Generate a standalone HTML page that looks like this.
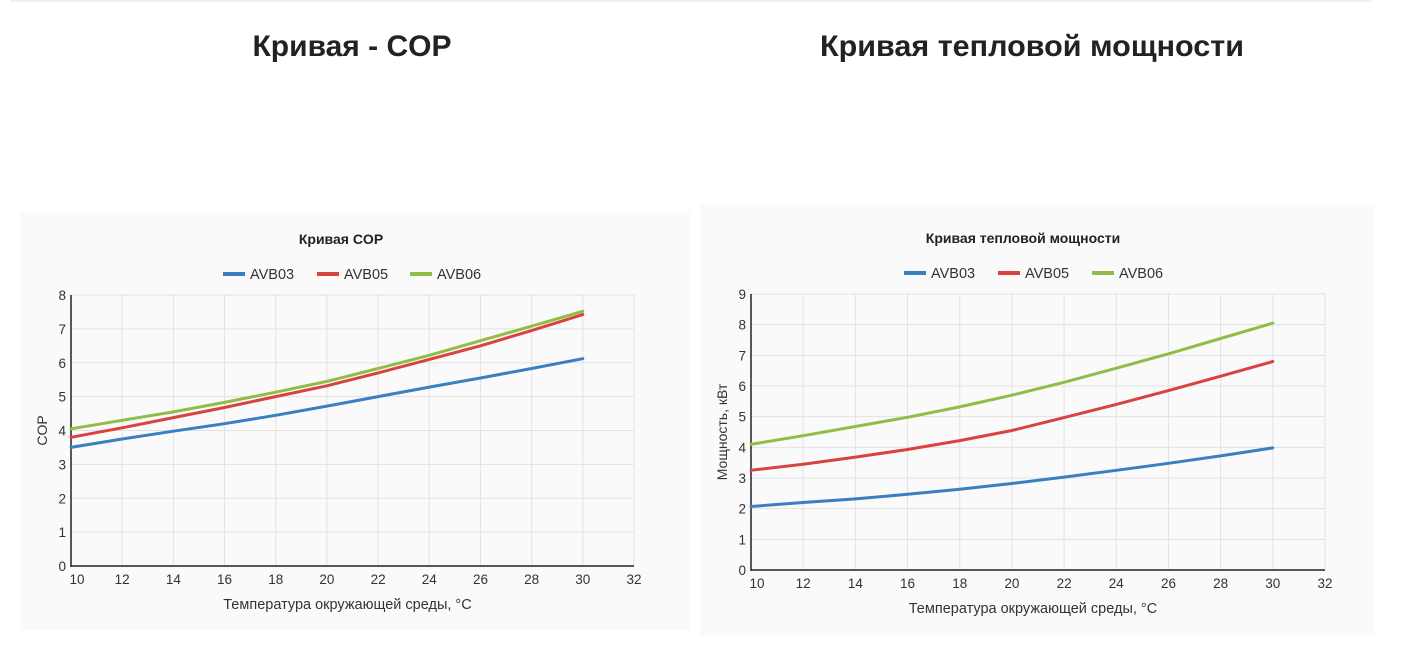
<!DOCTYPE html>
<html><head><meta charset="utf-8"><style>
html,body{margin:0;padding:0;background:#fff;width:1416px;height:658px;overflow:hidden;font-family:"Liberation Sans",sans-serif}
svg{position:absolute;left:0;top:0}
</style></head><body>
<svg id="s" width="1416" height="658" xmlns="http://www.w3.org/2000/svg">
<line x1="10" y1="1" x2="1372" y2="1" stroke="#e6e6e6"/>
<text x="352" y="56" text-anchor="middle" font-size="30" font-weight="bold" fill="#222">Кривая - COP</text>
<text x="1032" y="56" text-anchor="middle" font-size="30" font-weight="bold" fill="#222" textLength="424" lengthAdjust="spacingAndGlyphs">Кривая тепловой мощности</text>
<rect x="20" y="212" width="670" height="418" fill="#fafafa"/>
<rect x="700" y="205" width="675" height="430" fill="#fafafa"/>
</svg>
<script>
var s=document.getElementById('s'),NS='http://www.w3.org/2000/svg';
function el(t,a,txt){var e=document.createElementNS(NS,t);for(var k in a)e.setAttribute(k,a[k]);if(txt!=null)e.textContent=txt;s.appendChild(e);return e;}
function chart(c){
 var x0=c.x0,x1=c.x1,y0=c.y0,y1=c.y1,ymax=c.ymax;
 var X=function(v){return x0+(v-10)/22*(x1-x0)},Y=function(v){return y0-(v/ymax)*(y0-y1)};
 for(var v=12;v<=32;v+=2)el('line',{x1:X(v),y1:y1,x2:X(v),y2:y0,stroke:'#e2e2e2','stroke-width':1});
 for(var i=1;i<=ymax;i++)el('line',{x1:x0,y1:Y(i),x2:x1,y2:Y(i),stroke:'#e2e2e2','stroke-width':1});
 el('line',{x1:x0,y1:y1,x2:x0,y2:y0+1,stroke:'#222','stroke-width':1.5});
 el('line',{x1:x0,y1:y0,x2:x1,y2:y0,stroke:'#222','stroke-width':1.5});
 for(var v=10;v<=32;v+=2)el('text',{x:X(v)+(v==10?6:0),y:y0+18,'text-anchor':'middle','font-size':13.5,fill:'#333'},v);
 for(var i=0;i<=ymax;i++)el('text',{x:x0-5,y:Y(i)+5,'text-anchor':'end','font-size':13.5,fill:'#333'},i);
 el('text',{x:(x0+x1)/2-5,y:y0+43,'text-anchor':'middle','font-size':14.5,fill:'#333'},'Температура окружающей среды, °C');
 var yl=(y0+y1)/2; el('text',{x:c.ylx,y:yl,'text-anchor':'middle','font-size':14,fill:'#333',transform:'rotate(-90 '+c.ylx+' '+yl+')'},c.ylab);
 el('text',{x:c.tx,y:c.ty,'text-anchor':'middle','font-size':14,'font-weight':'bold',fill:'#222'},c.title);
 var cols=['#3a7fc1','#d9423f','#8fbd45'],names=['AVB03','AVB05','AVB06'];
 for(var k=0;k<3;k++){
  var lx=c.lx[k];
  el('line',{x1:lx,y1:c.ly,x2:lx+22,y2:c.ly,stroke:cols[k],'stroke-width':4});
  el('text',{x:lx+27,y:c.ly+5,'font-size':14.5,fill:'#333'},names[k]);
  var d='';c.data[k].forEach(function(v,j){d+=(j?'L':'M')+X(10+2*j).toFixed(1)+' '+Y(v).toFixed(1)});
  el('path',{d:d,fill:'none',stroke:cols[k],'stroke-width':3,'stroke-linejoin':'round','stroke-linecap':'round'});
 }
}
chart({x0:71,x1:634,y0:566,y1:295,ymax:8,ylx:47,ylab:'COP',title:'Кривая COP',tx:341,ty:244,ly:274,lx:[223,317,410],
 data:[[3.5,3.75,3.98,4.2,4.45,4.72,5.0,5.28,5.55,5.83,6.12],
       [3.8,4.08,4.38,4.68,5.0,5.32,5.7,6.1,6.5,6.95,7.42],
       [4.05,4.3,4.55,4.83,5.13,5.45,5.83,6.22,6.65,7.08,7.52]]});
chart({x0:751,x1:1325,y0:570,y1:294,ymax:9,ylx:727,ylab:'Мощность, кВт',title:'Кривая тепловой мощности',tx:1023,ty:243,ly:273,lx:[904,998,1092],
 data:[[2.07,2.2,2.32,2.47,2.63,2.82,3.03,3.25,3.48,3.72,3.98],
       [3.25,3.45,3.68,3.93,4.22,4.55,4.97,5.4,5.85,6.32,6.8],
       [4.1,4.38,4.68,4.98,5.32,5.7,6.12,6.58,7.05,7.55,8.05]]});
</script>
</body></html>
